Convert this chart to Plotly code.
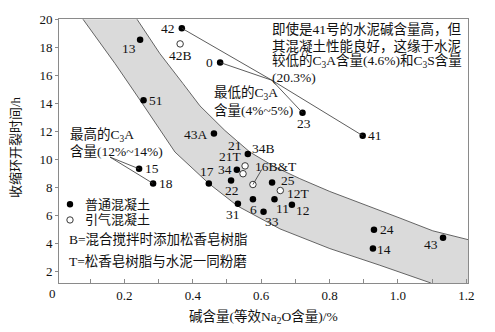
import plotly.graph_objects as go

# Cements in ordinary (non air-entrained) concrete
plain_ids = ["42", "13", "0", "51", "43A", "23", "41", "15", "18", "17", "21",
             "34", "22", "31", "25", "6", "11", "12", "33", "24", "14", "43"]
plain_alkali = [0.368, 0.246, 0.480, 0.256, 0.462, 0.721, 0.897, 0.243, 0.284,
                0.447, 0.561, 0.529, 0.512, 0.532, 0.632, 0.576, 0.639, 0.690,
                0.607, 0.930, 0.927, 1.132]
plain_hours = [19.36, 18.54, 16.91, 14.21, 11.84, 13.32, 11.68, 9.31, 8.26,
               8.26, 10.37, 9.24, 8.47, 6.81, 8.33, 7.13, 7.13, 6.74, 6.25,
               4.95, 3.61, 4.39]

# Cements in air-entrained concrete
air_ids = ["42B", "21T", "34B", "16B&T", "12T"]
air_alkali = [0.363, 0.553, 0.547, 0.576, 0.656]
air_hours = [18.24, 9.52, 8.96, 8.19, 7.76]

# Boundaries of the shaded trend band
lower_edge_x = [0.079, 0.1725, 0.2456, 0.348, 0.447, 0.532, 0.655, 0.801, 0.947, 1.0965]
lower_edge_y = [20.0, 16.84, 14.23, 10.51, 8.26, 6.64, 5.02, 3.61, 2.42, 1.15]
upper_edge_x = [0.237, 0.304, 0.371, 0.421, 0.494, 0.567, 0.640, 0.713, 0.801,
                0.889, 1.006, 1.102, 1.205]
upper_edge_y = [20.0, 17.54, 15.42, 13.81, 12.05, 10.51, 9.45, 8.61, 7.69,
                6.85, 5.79, 4.88, 4.25]

X_RANGE = [0.0088, 1.205]
Y_RANGE = [1.15, 20.02]

x_ticks = [0.2, 0.4, 0.6, 0.8, 1.0, 1.2]
x_tick_text = ["0.2", "0.4", "0.6", "0.8", "1.0", "1.2"]
y_ticks = [2, 4, 6, 8, 10, 12, 14, 16, 18, 20]

# Label placement around each marker, in pixels (right, down)
LABEL_SHIFT = {
    "42": (-14, 0), "42B": (0, 12), "13": (-11, 9), "0": (-11, 0),
    "51": (12, 0), "43A": (-18, 1), "23": (1, 11), "41": (12, 0),
    "15": (13, 0), "18": (13, 0), "17": (-2, -12), "21": (-13, -9),
    "21T": (-15, -9), "34B": (20, -25), "34": (-12, 0), "22": (1, 10),
    "31": (-5, 11), "16B&T": (23, -18), "25": (16, -2), "12T": (18, 3),
    "6": (1, 10), "11": (8, 9), "12": (11, 6), "33": (8, 10),
    "24": (13, 0), "14": (11, 1), "43": (-12, 7),
}

SERIF = "Liberation Serif, 'Noto Sans CJK SC', serif"
TXT = "#111111"
AXIS = "#8a8a8a"

fig = go.Figure()

# Shaded band
band_x = lower_edge_x + [X_RANGE[1]] + upper_edge_x[::-1]
band_y = lower_edge_y + [Y_RANGE[0]] + upper_edge_y[::-1]
fig.add_trace(go.Scatter(x=band_x, y=band_y, mode="lines", fill="toself",
                         fillcolor="#dadada", line=dict(width=0),
                         hoverinfo="skip", showlegend=False))
for ex, ey in ((lower_edge_x, lower_edge_y), (upper_edge_x, upper_edge_y)):
    fig.add_trace(go.Scatter(x=ex, y=ey, mode="lines",
                             line=dict(color="#555555", width=0.9),
                             hoverinfo="skip", showlegend=False))

all_ids = plain_ids + air_ids
all_x = plain_alkali + air_alkali
all_y = plain_hours + air_hours
pos = {k: (xv, yv) for k, xv, yv in zip(all_ids, all_x, all_y)}

# Leader lines
def leader(x0, y0, x1, y1):
    fig.add_shape(type="line", x0=x0, y0=y0, x1=x1, y1=y1, xref="x", yref="y",
                  line=dict(color="#333333", width=0.8), layer="above")

note_corner = (0.6316, 15.64)
for k in ("42", "0", "23", "41"):
    leader(note_corner[0], note_corner[1], *pos[k])
c3a_high = (0.158, 10.15)
for k in ("15", "18"):
    leader(c3a_high[0], c3a_high[1], *pos[k])
leader(pos["16B&T"][0], pos["16B&T"][1], 0.602, 9.27)

fig.add_trace(go.Scatter(x=plain_alkali, y=plain_hours, mode="markers",
                         marker=dict(color="#000000", size=6.5,
                                     line=dict(width=0)),
                         showlegend=False, cliponaxis=False))
fig.add_trace(go.Scatter(x=air_alkali, y=air_hours, mode="markers",
                         marker=dict(color="#ffffff", size=6.5,
                                     line=dict(color="#222222", width=0.9)),
                         showlegend=False, cliponaxis=False))

annotations = []
for k in all_ids:
    dx, dy = LABEL_SHIFT[k]
    annotations.append(dict(x=pos[k][0], y=pos[k][1], xref="x", yref="y",
                            text=k, showarrow=False, xshift=dx, yshift=-dy,
                            xanchor="center", yanchor="middle",
                            font=dict(family=SERIF, size=13.5, color=TXT)))


def note(px, py, text, size=13.5, anchor="left"):
    # position given in pixels of the page; converted to paper fractions
    annotations.append(dict(x=(px - 59) / 409, y=(283 - py) / 268,
                            xref="paper", yref="paper", text=text,
                            showarrow=False, xanchor=anchor, yanchor="middle",
                            font=dict(family=SERIF, size=size, color=TXT)))


note(270, 25, "即使是41号的水泥碱含量高，但")
note(270, 42, "其混凝土性能良好，这缘于水泥")
note(270, 58, "较低的C<sub>3</sub>A含量(4.6%)和C<sub>3</sub>S含量")
note(270, 74, "(20.3%)")
note(212, 91, "最低的C<sub>3</sub>A")
note(212, 108, "含量(4%~5%)")
note(68, 133, "最高的C<sub>3</sub>A")
note(68, 149, "含量(12%~14%)")
note(83, 203, "普通混凝土", size=13)
note(83, 219, "引气混凝土", size=13)
note(67, 239, "B=混合搅拌时添加松香皂树脂", size=13.5)
note(67, 261, "T=松香皂树脂与水泥一同粉磨", size=13.5)
note(52, 294, "0", size=13, anchor="center")
note(263, 318, "碱含量(等效Na<sub>2</sub>O含量)/%", size=13.5, anchor="center")
annotations.append(dict(x=(15 - 59) / 409, y=(283 - 145) / 268, xref="paper",
                        yref="paper", text="收缩环开裂时间/h", textangle=-90,
                        showarrow=False, xanchor="center", yanchor="middle",
                        font=dict(family=SERIF, size=13, color=TXT)))

# Legend symbols
shapes = []
for py, fill in ((203, "#000000"), (219, "#ffffff")):
    shapes.append(dict(type="circle", xref="paper", yref="paper",
                       xsizemode="pixel", ysizemode="pixel",
                       xanchor=(70 - 59) / 409, yanchor=(283 - py) / 268,
                       x0=-3.2, x1=3.2, y0=-3.2, y1=3.2, fillcolor=fill,
                       line=dict(color="#222222", width=0.9 if fill == "#ffffff" else 0)))

fig.update_layout(
    width=495, height=332,
    margin=dict(l=59, r=27, t=15, b=49),
    paper_bgcolor="white", plot_bgcolor="white",
    font=dict(family=SERIF, size=13, color=TXT),
    annotations=annotations,
    shapes=list(fig.layout.shapes) + shapes,
    xaxis=dict(range=X_RANGE, tickvals=x_ticks, ticktext=x_tick_text,
               ticks="inside", ticklen=4, tickcolor=AXIS, tickwidth=1,
               minor=dict(tickvals=[0.1, 0.3, 0.5, 0.7, 0.9, 1.1],
                          ticks="inside", ticklen=4, tickcolor=AXIS),
               showline=True, linecolor=AXIS, linewidth=1, mirror=True,
               showgrid=False, zeroline=False,
               tickfont=dict(family=SERIF, size=13, color=TXT)),
    yaxis=dict(range=Y_RANGE, tickvals=y_ticks,
               ticks="outside", ticklen=3, tickcolor=AXIS, tickwidth=1,
               showline=True, linecolor=AXIS, linewidth=1, mirror=True,
               showgrid=False, zeroline=False,
               tickfont=dict(family=SERIF, size=13, color=TXT)),
)

fig.write_html("out.html")
